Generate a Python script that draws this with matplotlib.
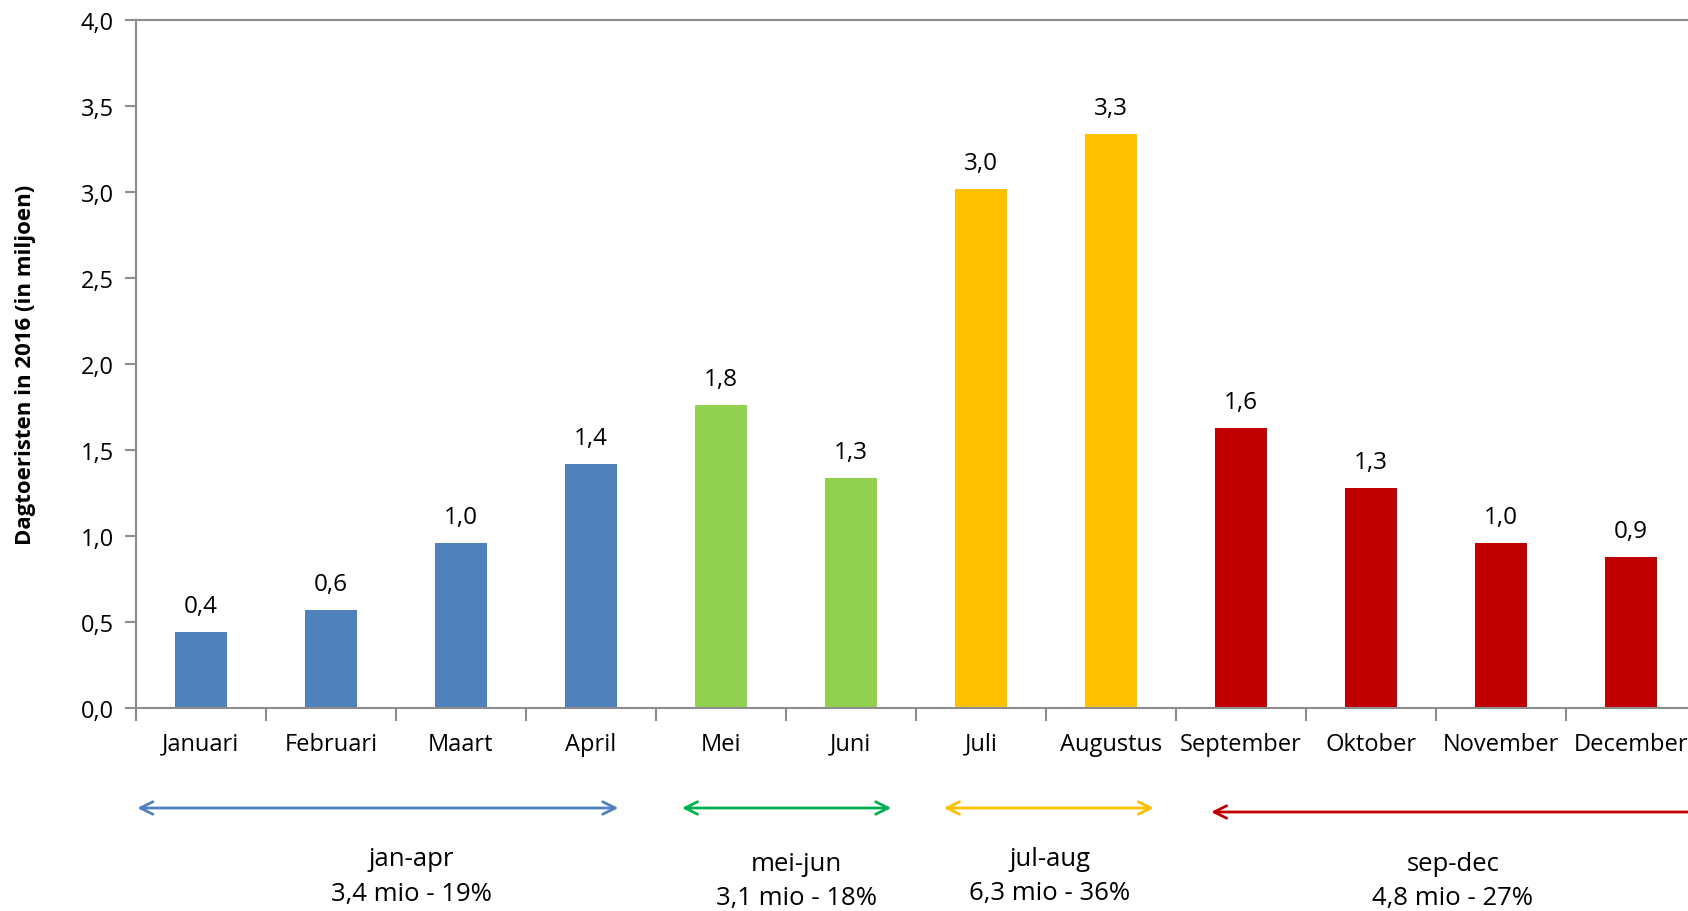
import matplotlib.pyplot as plt
from matplotlib.ticker import FixedLocator

plt.rcParams['font.family'] = ['Open Sans', 'DejaVu Sans']

# data
maanden = ['Januari', 'Februari', 'Maart', 'April', 'Mei', 'Juni', 'Juli',
           'Augustus', 'September', 'Oktober', 'November', 'December']
dagtoeristen = [0.44, 0.57, 0.96, 1.42, 1.76, 1.34, 3.02, 3.34, 1.63, 1.28, 0.96, 0.88]
groep_per_maand = [0, 0, 0, 0, 1, 1, 2, 2, 3, 3, 3, 3]
groep_namen = ['jan-apr', 'mei-jun', 'jul-aug', 'sep-dec']
groep_totalen = ['3,4 mio - 19%', '3,1 mio - 18%', '6,3 mio - 36%', '4,8 mio - 27%']

bar_colors = ['#4F81BD', '#92D050', '#FFC000', '#C00000']
arrow_colors = ['#4F81BD', '#00B050', '#FFC000', '#C00000']
# arrow spans (start, end) in category units, drawn by hand in the original
arrow_spans = [(-0.49, 3.21), (3.70, 5.31), (5.715, 7.33), (7.77, 11.6)]
arrow_y = [809, 809, 809, 813]          # pixels from top
text_y = [(860, 895), (865, 899), (860, 894), (865, 899)]
text_x = [1.62, 4.58, 6.53, 9.63]

W, H = 1688, 912
fig = plt.figure(figsize=(W / 100, H / 100), dpi=100)
ax = fig.add_axes([136 / W, 1 - 709 / H, 1560 / W, 688 / H])

x = list(range(len(maanden)))
colors = [bar_colors[g] for g in groep_per_maand]
ax.bar(x, dagtoeristen, width=0.4, color=colors, zorder=2)

FS = 17
for xi, v in zip(x, dagtoeristen):
    ax.annotate(f'{v:.1f}'.replace('.', ','), (xi, v), xytext=(0, 10),
                textcoords='offset points', ha='center', va='bottom',
                fontsize=17.5, color='#000000')

ax.set_xlim(-0.5, len(maanden) - 0.5)
ax.set_ylim(0, 4.0)
ax.set_yticks([i * 0.5 for i in range(9)])
ax.set_yticklabels([f'{i * 0.5:.1f}'.replace('.', ',') for i in range(9)])
ax.set_xticks(x)
ax.set_xticklabels(maanden)
ax.xaxis.set_minor_locator(FixedLocator([i - 0.5 for i in range(len(maanden) + 1)]))

spine_col = '#8C8C8C'
for s in ax.spines.values():
    s.set_color(spine_col)
    s.set_linewidth(1.5)
ax.tick_params(axis='x', which='major', length=0, pad=17, labelsize=FS)
ax.tick_params(axis='x', which='minor', length=9, width=1.5, color=spine_col)
ax.tick_params(axis='y', length=8, width=1.5, color=spine_col, labelsize=FS, pad=8)

ax.set_ylabel('Dagtoeristen in 2016 (in miljoen)', fontsize=16, fontweight='bold')
ax.yaxis.set_label_coords(-(136 - 36) / 1560, 0.5)

# group arrows and texts below axis
for g in range(len(groep_namen)):
    y_ax = (709 - arrow_y[g]) / 688
    x0, x1 = arrow_spans[g]
    ax.annotate('', xy=(x1, y_ax), xytext=(x0, y_ax),
                xycoords=('data', 'axes fraction'), textcoords=('data', 'axes fraction'),
                arrowprops=dict(arrowstyle='<->, head_length=0.9, head_width=0.45',
                                color=arrow_colors[g], lw=2, shrinkA=0, shrinkB=0),
                annotation_clip=False)
    ty1, ty2 = text_y[g]
    ax.text(text_x[g], (709 - ty1) / 688, groep_namen[g], transform=ax.get_xaxis_transform(),
            ha='center', va='center', fontsize=18.5, clip_on=False)
    ax.text(text_x[g], (709 - ty2) / 688, groep_totalen[g], transform=ax.get_xaxis_transform(),
            ha='center', va='center', fontsize=18.5, clip_on=False)

fig.savefig('out.png', dpi=100, facecolor='white')
